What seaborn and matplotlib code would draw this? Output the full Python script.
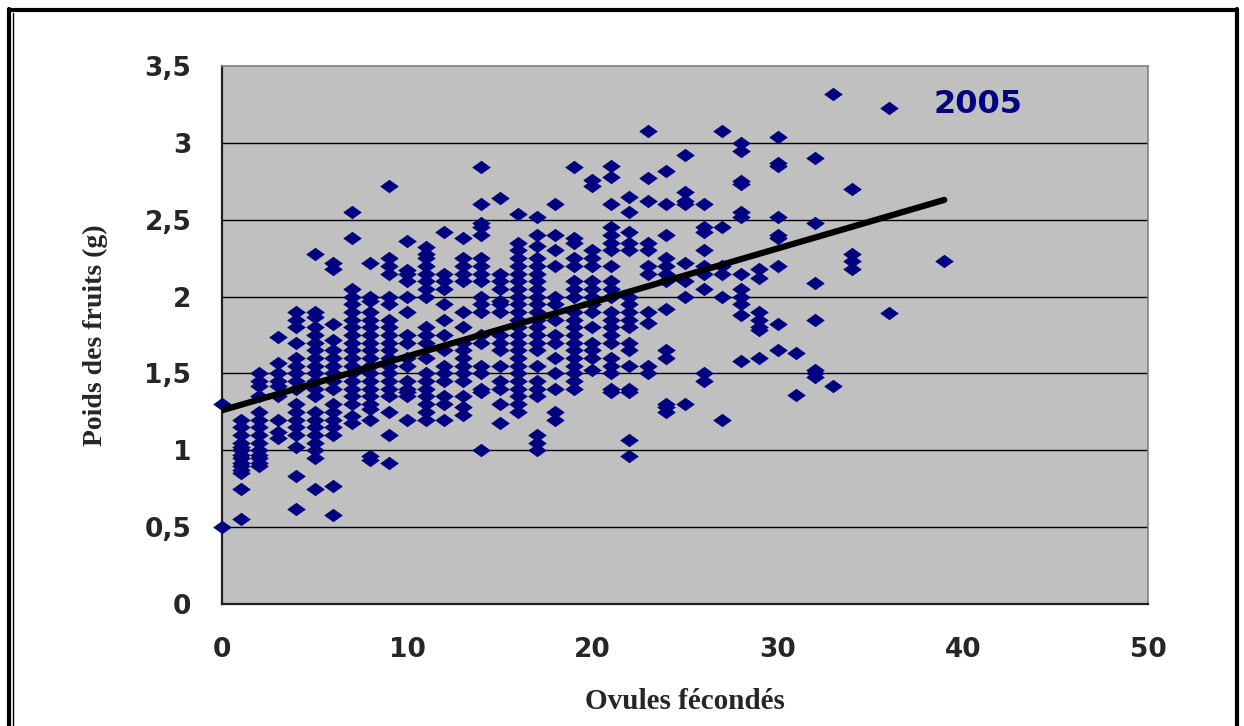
import numpy as np
import pandas as pd
import matplotlib
matplotlib.use("Agg")
import matplotlib.pyplot as plt
from matplotlib.lines import Line2D
import seaborn as sns

# Fruit weight (g) observed for each number of fertilised ovules
poids_00 = [1.30, 0.50]
poids_01 = [1.20, 1.15, 1.10, 1.05, 1.02, 1.00, 0.97, 0.95, 0.92, 0.90, 0.87, 0.85, 0.75, 0.55]
poids_02 = [1.50, 1.45, 1.42, 1.35, 1.25, 1.20, 1.15, 1.10, 1.05, 1.00, 0.97, 0.95, 0.92, 0.90]
poids_03 = [1.74, 1.57, 1.50, 1.45, 1.42, 1.35, 1.20, 1.12, 1.08]
poids_04 = [1.90, 1.85, 1.80, 1.70, 1.60, 1.55, 1.50, 1.45, 1.40, 1.30, 1.25, 1.20, 1.15, 1.10, 1.02, 0.83, 0.62]
poids_05 = [2.28, 1.90, 1.87, 1.80, 1.75, 1.70, 1.65, 1.60, 1.55, 1.50, 1.45, 1.40, 1.35, 1.25,
            1.20, 1.15, 1.10, 1.05, 1.00, 0.95, 0.75]
poids_06 = [2.22, 2.18, 1.82, 1.72, 1.65, 1.60, 1.55, 1.50, 1.45, 1.40, 1.30, 1.25, 1.20, 1.15, 1.10, 0.77, 0.58]
poids_07 = [2.55, 2.38, 2.05, 2.00, 1.95, 1.90, 1.85, 1.80, 1.75, 1.70, 1.65, 1.60, 1.55, 1.50,
            1.45, 1.40, 1.35, 1.30, 1.22, 1.18]
poids_08 = [2.22, 2.00, 1.97, 1.90, 1.85, 1.80, 1.75, 1.70, 1.65, 1.60, 1.55, 1.50, 1.45, 1.40,
            1.35, 1.30, 1.27, 1.20, 0.96, 0.94]
poids_09 = [2.72, 2.25, 2.20, 2.15, 2.00, 1.95, 1.85, 1.80, 1.75, 1.70, 1.65, 1.60, 1.55, 1.50,
            1.45, 1.40, 1.35, 1.25, 1.10, 0.92]
poids_10 = [2.36, 2.17, 2.15, 2.10, 2.00, 1.90, 1.75, 1.70, 1.60, 1.55, 1.45, 1.40, 1.38, 1.35, 1.20]
poids_11 = [2.32, 2.28, 2.25, 2.20, 2.15, 2.10, 2.05, 2.00, 1.80, 1.75, 1.70, 1.60, 1.50, 1.45,
            1.40, 1.35, 1.30, 1.25, 1.20]
poids_12 = [2.42, 2.15, 2.10, 2.05, 1.95, 1.85, 1.75, 1.65, 1.55, 1.50, 1.45, 1.35, 1.30, 1.20]
poids_13 = [2.38, 2.25, 2.20, 2.15, 2.10, 1.90, 1.80, 1.70, 1.65, 1.60, 1.55, 1.50, 1.45, 1.35, 1.28, 1.23]
poids_14 = [2.84, 2.60, 2.48, 2.45, 2.40, 2.25, 2.20, 2.15, 2.10, 2.00, 1.95, 1.90, 1.75, 1.70,
            1.55, 1.50, 1.40, 1.38, 1.00]
poids_15 = [2.64, 2.15, 2.10, 2.05, 1.97, 1.95, 1.90, 1.75, 1.70, 1.65, 1.55, 1.45, 1.40, 1.30, 1.18]
poids_16 = [2.54, 2.35, 2.30, 2.25, 2.20, 2.15, 2.10, 2.05, 2.00, 1.95, 1.90, 1.85, 1.80, 1.75,
            1.70, 1.65, 1.60, 1.55, 1.50, 1.45, 1.40, 1.35, 1.30, 1.25]
poids_17 = [2.52, 2.40, 2.33, 2.25, 2.20, 2.15, 2.10, 2.05, 2.00, 1.95, 1.90, 1.85, 1.80, 1.75,
            1.70, 1.65, 1.55, 1.45, 1.40, 1.35, 1.10, 1.05, 1.00]
poids_18 = [2.60, 2.40, 2.30, 2.20, 2.00, 1.95, 1.85, 1.75, 1.70, 1.60, 1.50, 1.40, 1.25, 1.20]
poids_19 = [2.84, 2.38, 2.35, 2.25, 2.20, 2.10, 2.05, 2.00, 1.90, 1.85, 1.80, 1.75, 1.70, 1.65,
            1.60, 1.55, 1.50, 1.45, 1.40]
poids_20 = [2.76, 2.72, 2.30, 2.25, 2.20, 2.10, 2.05, 2.00, 1.95, 1.90, 1.80, 1.70, 1.65, 1.60, 1.52]
poids_21 = [2.85, 2.78, 2.60, 2.45, 2.40, 2.35, 2.30, 2.20, 2.10, 2.05, 2.00, 1.90, 1.85, 1.80,
            1.75, 1.70, 1.60, 1.55, 1.50, 1.40, 1.38]
poids_22 = [2.65, 2.55, 2.42, 2.35, 2.30, 2.00, 1.95, 1.90, 1.85, 1.80, 1.70, 1.65, 1.55, 1.40,
            1.38, 1.07, 0.96]
poids_23 = [3.08, 2.77, 2.62, 2.35, 2.30, 2.20, 2.15, 1.90, 1.83, 1.55, 1.50]
poids_24 = [2.82, 2.60, 2.40, 2.25, 2.20, 2.15, 2.10, 1.92, 1.65, 1.60, 1.30, 1.28, 1.25]
poids_25 = [2.92, 2.68, 2.62, 2.60, 2.22, 2.10, 2.00, 1.30]
poids_26 = [2.60, 2.45, 2.42, 2.30, 2.20, 2.15, 2.05, 1.50, 1.45]
poids_27 = [3.08, 2.45, 2.20, 2.15, 2.00, 1.20]
poids_28 = [3.00, 2.95, 2.75, 2.73, 2.55, 2.52, 2.15, 2.05, 2.00, 1.95, 1.88, 1.58]
poids_29 = [2.18, 2.12, 1.90, 1.85, 1.80, 1.78, 1.60]
poids_30 = [3.04, 2.87, 2.85, 2.52, 2.40, 2.38, 2.20, 1.82, 1.65]
poids_31 = [1.63, 1.36]
poids_32 = [2.90, 2.48, 2.09, 1.85, 1.52, 1.50, 1.48]
poids_33 = [3.32, 1.42]
poids_34 = [2.70, 2.28, 2.23, 2.18]
poids_36 = [3.23, 1.89]
poids_39 = [2.23]

ovules_observes = [0, 1, 2, 3, 4, 5, 6, 7, 8, 9, 10, 11, 12, 13, 14, 15, 16, 17, 18, 19,
                   20, 21, 22, 23, 24, 25, 26, 27, 28, 29, 30, 31, 32, 33, 34, 36, 39]
poids_par_ovules = [poids_00, poids_01, poids_02, poids_03, poids_04, poids_05, poids_06, poids_07,
                    poids_08, poids_09, poids_10, poids_11, poids_12, poids_13, poids_14, poids_15,
                    poids_16, poids_17, poids_18, poids_19, poids_20, poids_21, poids_22, poids_23,
                    poids_24, poids_25, poids_26, poids_27, poids_28, poids_29, poids_30, poids_31,
                    poids_32, poids_33, poids_34, poids_36, poids_39]

# Linear trend line
tendance_origine = 1.26
tendance_pente = 0.0351
tendance_x = [0, 39]

x_ticks = [0, 10, 20, 30, 40, 50]
y_ticks = [0, 0.5, 1, 1.5, 2, 2.5, 3, 3.5]
y_tick_labels = ["0", "0,5", "1", "1,5", "2", "2,5", "3", "3,5"]
annee = "2005"

df = pd.DataFrame({
    "Ovules": np.concatenate([[n] * len(p) for n, p in zip(ovules_observes, poids_par_ovules)]),
    "Poids": np.concatenate(poids_par_ovules),
})

sns.set_theme(style="white")
plt.rcParams["font.family"] = ["DejaVu Sans"]

W, H = 1244, 726
fig = plt.figure(figsize=(W / 100, H / 100), dpi=100)
fig.patch.set_facecolor("white")
ax = fig.add_axes([222 / W, 1 - 604 / H, (1148 - 222) / W, (604 - 66) / H])
ax.set_facecolor("#C0C0C0")

navy = "#000080"
diamond = [(-1.0, 0.0), (0.0, 0.72), (1.0, 0.0), (0.0, -0.72), (-1.0, 0.0)]

for yv in y_ticks[1:-1]:
    ax.axhline(yv, color="black", lw=1.0, zorder=1)

sns.scatterplot(data=df, x="Ovules", y="Poids", marker=diamond, s=180,
                color=navy, edgecolor=navy, linewidth=0, ax=ax, zorder=3,
                legend=False, clip_on=False)

tx = np.array(tendance_x, dtype=float)
ax.plot(tx, tendance_origine + tendance_pente * tx, color="black", lw=4.5,
        solid_capstyle="round", zorder=4)

ax.text(38.4, 3.25, annee, color=navy, fontsize=23, fontweight="bold",
        ha="left", va="center", zorder=5)

ax.set_xlim(0, 50)
ax.set_ylim(0, 3.5)
ax.set_xticks(x_ticks)
ax.set_yticks(y_ticks)
ax.set_xticklabels([str(v) for v in x_ticks], fontsize=19, fontweight="bold")
ax.set_yticklabels(y_tick_labels, fontsize=19, fontweight="bold")
ax.tick_params(axis="both", direction="out", length=7, width=1.2, color="black")
ax.tick_params(axis="x", pad=17)
ax.tick_params(axis="y", pad=15)

for side in ["left", "bottom"]:
    ax.spines[side].set_color("#202020")
    ax.spines[side].set_linewidth(1.6)
for side in ["top", "right"]:
    ax.spines[side].set_color("#808080")
    ax.spines[side].set_linewidth(1.2)

ax.set_xlabel("Ovules fécondés", family=["Liberation Serif"], fontsize=21,
              fontweight="bold", labelpad=18)
ax.set_ylabel("Poids des fruits (g)", family=["Liberation Serif"], fontsize=20,
              fontweight="bold", labelpad=26)

# Page frame around the chart
frame = [
    ((9 / W, 9 / W), (0, 1 - 9 / H), 3.0),
    ((13 / W, 13 / W), (0, 1 - 13 / H), 1.0),
    ((9 / W, 1237 / W), (1 - 10 / H, 1 - 10 / H), 3.0),
    ((1237 / W, 1237 / W), (0, 1 - 9 / H), 3.0),
]
for xs, ys, lw in frame:
    fig.add_artist(Line2D(xs, ys, color="black", lw=lw, transform=fig.transFigure))

fig.savefig("out.png", dpi=100, facecolor="white")
